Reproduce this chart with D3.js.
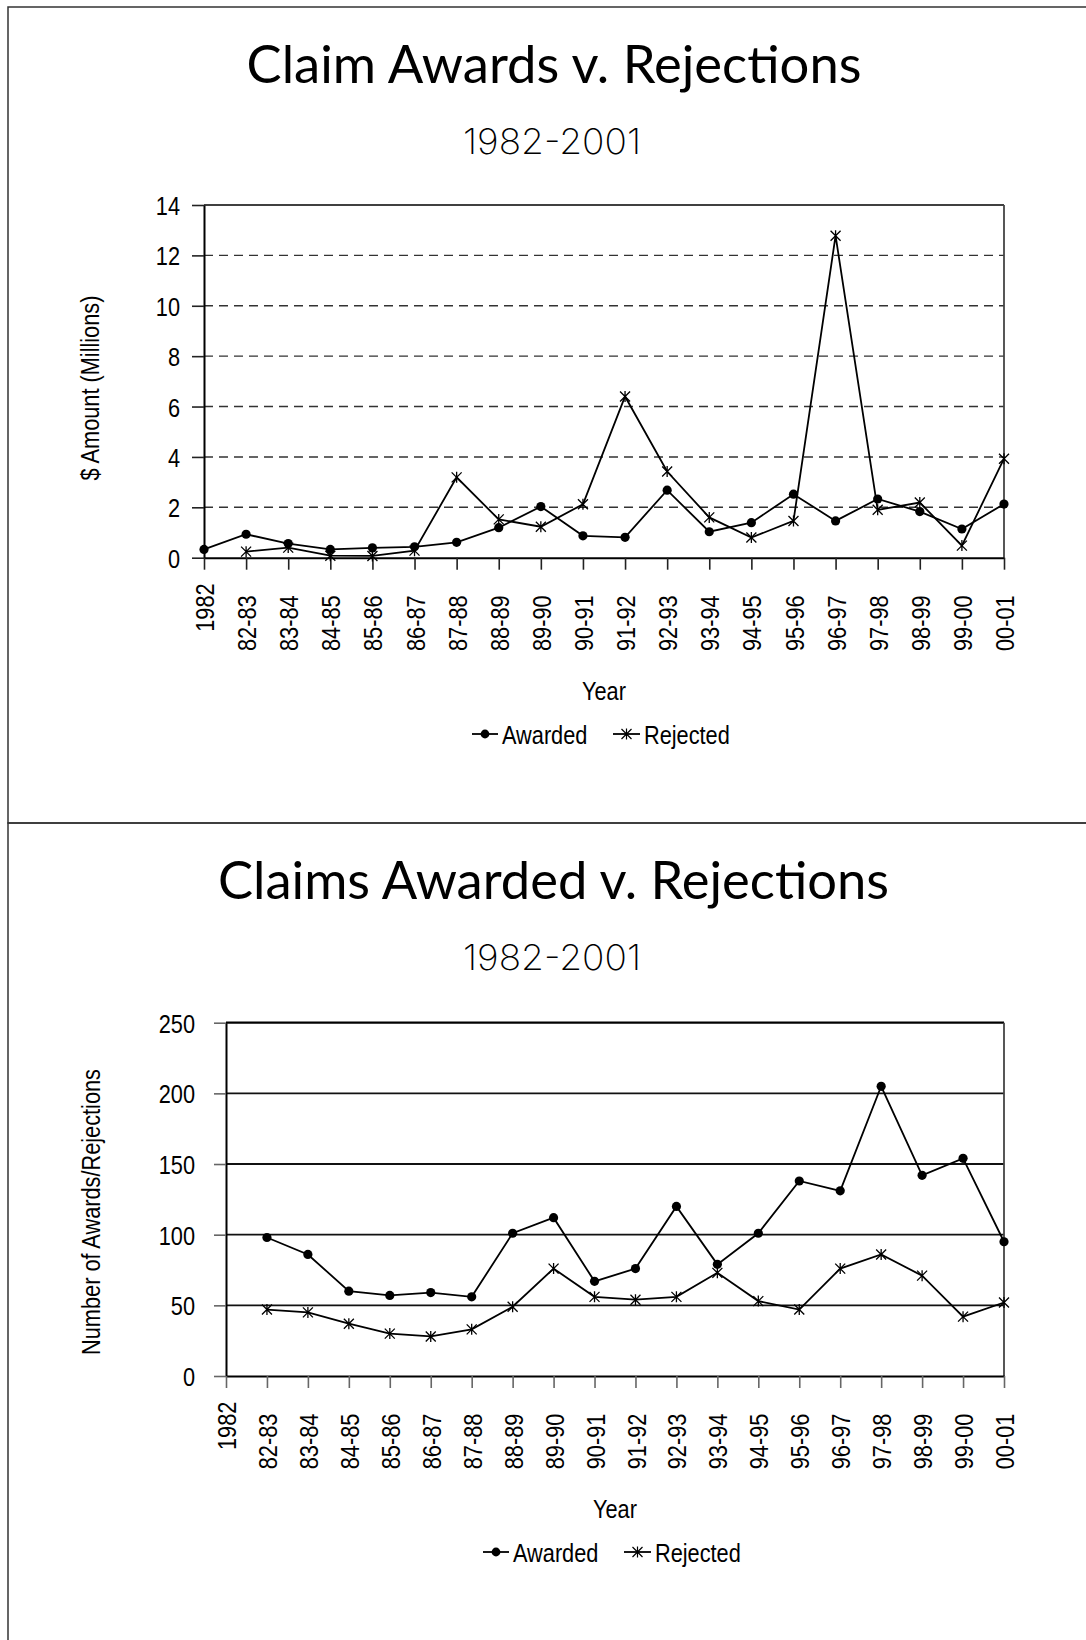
<!DOCTYPE html>
<html><head><meta charset="utf-8">
<script src="https://cdn.jsdelivr.net/npm/d3@7"></script>
<style>html,body{margin:0;padding:0;background:#fff;} svg{display:block}</style>
</head><body>
<svg id="c" width="1086" height="1640"></svg>
<script>
const categories = ["1982","82-83","83-84","84-85","85-86","86-87","87-88","88-89","89-90","90-91","91-92","92-93","93-94","94-95","95-96","96-97","97-98","98-99","99-00","00-01"];
const dollarAwarded = [0.33,0.93,0.56,0.33,0.39,0.43,0.61,1.19,2.03,0.87,0.81,2.68,1.03,1.39,2.52,1.46,2.33,1.83,1.14,2.13];
const dollarRejected = [null,0.24,0.40,0.08,0.07,0.28,3.19,1.52,1.23,2.12,6.40,3.42,1.60,0.80,1.46,12.78,1.90,2.19,0.48,3.93];
const countAwarded = [null,98,86,60,57,59,56,101,112,67,76,120,79,101,138,131,205,142,154,95];
const countRejected = [null,47,45,37,30,28,33,49,76,56,54,56,73,53,47,76,86,71,42,52];
const dollarTicks = [0,2,4,6,8,10,12,14];
const countTicks = [0,50,100,150,200,250];
const seriesNames = ["Awarded","Rejected"];
const chartTitles = ["Claim Awards v. Rejections","Claims Awarded v. Rejections"];
const subtitleText = "1982-2001";
const yTitles = ["$ Amount (Millions)","Number of Awards/Rejections"];
const xTitleText = "Year";

const svg = d3.select('#c');
function textW(fam, s){ const t=svg.append('text').attr('font-family',fam).attr('font-size',100).text(s); const w=t.node().getComputedTextLength(); t.remove(); return w; }
const hasNarrow = textW('"Liberation Sans Narrow"','Awarded 1982') < 0.9*textW('"Liberation Sans"','Awarded 1982');
const axisFont = hasNarrow ? '"Liberation Sans Narrow", "Arial Narrow", sans-serif' : '"Liberation Sans", Arial, sans-serif';
const titleFont = 'Lato, "Open Sans", "Liberation Sans", sans-serif';
const subFont = 'Inter, Lato, "Open Sans", sans-serif';
function squeeze(sel){ if(hasNarrow) return; sel.each(function(){ const w=this.getComputedTextLength(); this.setAttribute('textLength', w*0.82); this.setAttribute('lengthAdjust','spacingAndGlyphs'); }); }
function fit(sel, len){ sel.attr('textLength',len).attr('lengthAdjust','spacingAndGlyphs'); }

// page frames
svg.append('rect').attr('x',8).attr('y',7).attr('width',1100).attr('height',816).attr('fill','none').attr('stroke','#333').attr('stroke-width',1.5);
svg.append('rect').attr('x',8).attr('y',823).attr('width',1100).attr('height',900).attr('fill','none').attr('stroke','#333').attr('stroke-width',1.5);

const starPath = 'M-5,-5L5,5M-5,5L5,-5M0,-5.5L0,5.5';

function drawChart(o){
  const g = svg.append('g');
  const x = d3.scalePoint().domain(categories).range([o.left,o.right]);
  const y = d3.scaleLinear().domain([0,o.max]).range([o.bottom,o.top]);
  const pcx = (o.left+o.right)/2;

  g.append('text').attr('x',o.cx).attr('y',o.titleY).attr('text-anchor','middle')
    .style('font-family',titleFont).style('font-size','52px').attr('fill','#000')
    .text(o.title).call(fit,o.titleW);
  g.append('text').attr('x',o.subCx).attr('y',o.subY).attr('text-anchor','middle')
    .style('font-family',subFont).style('font-weight',200).style('font-size','35px').attr('fill','#000')
    .text(subtitleText).call(fit,178);

  // gridlines
  const gridVals = o.ticks.filter(v=>v>0 && v<o.max);
  g.append('g').selectAll('line').data(gridVals).join('line')
    .attr('x1',o.left).attr('x2',o.right).attr('y1',d=>y(d)).attr('y2',d=>y(d))
    .attr('stroke',o.dashed?'#333':'#111').attr('stroke-width',o.dashed?1.4:1.8)
    .attr('stroke-dasharray',o.dashed?'9,6':null);

  // top & right border
  g.append('line').attr('x1',o.left).attr('x2',o.right).attr('y1',y(o.max)).attr('y2',y(o.max)).attr('stroke','#000').attr('stroke-width',o.dashed?1.5:2.2);
  g.append('line').attr('x1',o.right).attr('x2',o.right).attr('y1',y(o.max)).attr('y2',o.bottom).attr('stroke','#444').attr('stroke-width',1.8);

  // y axis
  const ya = g.append('g').attr('transform',`translate(${o.left},0)`)
    .call(d3.axisLeft(y).tickValues(o.ticks).tickSize(12).tickSizeOuter(0).tickPadding(o.yPad).tickFormat(d3.format('d')));
  ya.select('.domain').attr('stroke','#000').attr('stroke-width',2);
  ya.selectAll('.tick line').attr('stroke',o.dashed?'#222':'#666').attr('stroke-width',1.6);
  ya.selectAll('.tick text').style('font-family',axisFont).style('font-size','26.5px').attr('fill','#000').attr('dy','0.36em').call(squeeze);

  // x axis
  const xa = g.append('g').attr('transform',`translate(0,${o.bottom})`)
    .call(d3.axisBottom(x).tickSize(12).tickSizeOuter(0));
  xa.select('.domain').attr('stroke','#000').attr('stroke-width',2);
  xa.selectAll('.tick line').attr('stroke',o.dashed?'#222':'#666').attr('stroke-width',1.6);
  xa.selectAll('.tick text').attr('x',0).attr('y',0).attr('dy','0.36em').attr('text-anchor','end')
    .attr('transform',d=>`translate(0,${d.includes('-')?37.7:25.7}) rotate(-90)`)
    .style('font-family',axisFont).style('font-size','26.5px').attr('fill','#000').call(squeeze);

  // axis titles
  g.append('text').attr('transform',`translate(${o.yTitleX},${o.yTitleCy}) rotate(-90)`).attr('text-anchor','middle')
    .style('font-family',axisFont).style('font-size','26.5px').text(o.yTitle).call(squeeze);
  g.append('text').attr('x',pcx).attr('y',o.xTitleY).attr('text-anchor','middle')
    .style('font-family',axisFont).style('font-size','26.5px').text(xTitleText).call(squeeze);

  // series
  const line = d3.line().defined(d=>d.v!=null).x(d=>x(d.c)).y(d=>y(d.v));
  const aData = categories.map((c,i)=>({c,v:o.awarded[i]}));
  const rData = categories.map((c,i)=>({c,v:o.rejected[i]}));
  g.append('path').datum(aData).attr('d',line).attr('fill','none').attr('stroke','#000').attr('stroke-width',1.8);
  g.append('path').datum(rData).attr('d',line).attr('fill','none').attr('stroke','#000').attr('stroke-width',1.8);
  g.append('g').selectAll('circle').data(aData.filter(d=>d.v!=null)).join('circle')
    .attr('cx',d=>x(d.c)).attr('cy',d=>y(d.v)).attr('r',4.6).attr('fill','#000');
  g.append('g').selectAll('path').data(rData.filter(d=>d.v!=null)).join('path')
    .attr('transform',d=>`translate(${x(d.c)},${y(d.v)})`).attr('d',starPath)
    .attr('fill','none').attr('stroke','#000').attr('stroke-width',1.3);

  // legend
  const lc = pcx - 2.5, ly = o.legendY;
  const lg = g.append('g');
  lg.append('line').attr('x1',lc-129.5).attr('x2',lc-103.5).attr('y1',ly).attr('y2',ly).attr('stroke','#000').attr('stroke-width',1.8);
  lg.append('circle').attr('cx',lc-116.5).attr('cy',ly).attr('r',4.4).attr('fill','#000');
  lg.append('text').attr('x',lc-99.5).attr('y',ly+9.5).style('font-family',axisFont).style('font-size','26.5px').text(seriesNames[0]).call(squeeze);
  lg.append('line').attr('x1',lc+11.5).attr('x2',lc+38.5).attr('y1',ly).attr('y2',ly).attr('stroke','#000').attr('stroke-width',1.8);
  lg.append('path').attr('transform',`translate(${lc+25},${ly})`).attr('d',starPath).attr('fill','none').attr('stroke','#000').attr('stroke-width',1.2);
  lg.append('text').attr('x',lc+42.5).attr('y',ly+9.5).style('font-family',axisFont).style('font-size','26.5px').text(seriesNames[1]).call(squeeze);
}

drawChart({left:204,right:1004,top:205,bottom:557.7,max:14,ticks:dollarTicks,dashed:true,
  title:chartTitles[0],titleY:83,cx:554,titleW:615,subY:154,subCx:552,
  yPad:12,yTitle:yTitles[0],yTitleX:99,yTitleCy:388,xTitleY:700,legendY:734,
  awarded:dollarAwarded,rejected:dollarRejected});
drawChart({left:226,right:1004,top:1022.7,bottom:1376,max:250,ticks:countTicks,dashed:false,
  title:chartTitles[1],titleY:899,cx:553.5,titleW:671,subY:970,subCx:552,
  yPad:19,yTitle:yTitles[1],yTitleX:100,yTitleCy:1212,xTitleY:1518,legendY:1552,
  awarded:countAwarded,rejected:countRejected});
</script>
</body></html>
